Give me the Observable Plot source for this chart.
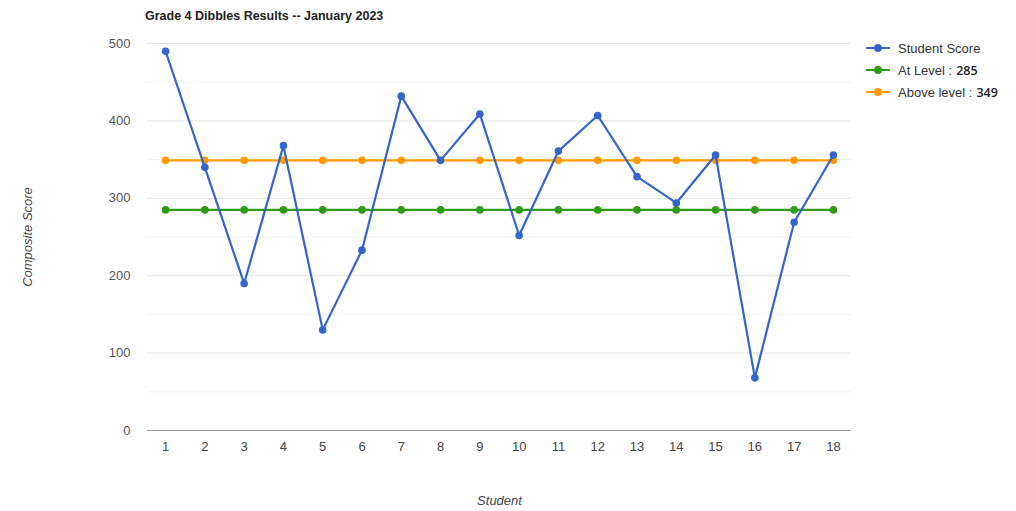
<!DOCTYPE html>
<html>
<head>
<meta charset="utf-8">
<script src="https://cdn.jsdelivr.net/npm/d3@7"></script>
<script src="https://cdn.jsdelivr.net/npm/@observablehq/plot@0.6"></script>
<style>
  html, body { margin: 0; padding: 0; background: #fff; }
  body { width: 1016px; height: 511px; position: relative; overflow: hidden; font-family: Arial, "Liberation Sans", sans-serif; }
  #title { position: absolute; left: 145px; top: 9px; font-size: 12.5px; font-weight: bold; color: #222; }
  #chart { position: absolute; left: 0; top: 0; }
  #legend { position: absolute; left: 866px; top: 37px; font-size: 13px; color: #333; }
  .item { display: flex; align-items: center; height: 22px; }
  .sw { position: relative; width: 24px; height: 10px; margin-right: 8px; }
  .sw .ln { position: absolute; left: 0; right: 0; top: 4px; height: 2px; }
  .sw .dt { position: absolute; left: 8px; top: 1px; width: 8px; height: 8px; border-radius: 50%; }
  .val { font-weight: 600; color: #222; font-family: "Open Sans", Arial, sans-serif; font-size: 12.5px; margin-left: 4px; }
</style>
</head>
<body>
<div id="title">Grade 4 Dibbles Results -- January 2023</div>
<div id="chart"></div>
<div id="legend"></div>
<script>
const students = [1,2,3,4,5,6,7,8,9,10,11,12,13,14,15,16,17,18];
const studentScore = [490,340,190,368,130,233,432,349,409,252,361,407,328,294,356,68,269,356];
const atLevel = 285;
const aboveLevel = 349;
const yTicks = [0,100,200,300,400,500];
const yMinor = [50,150,250,350,450];
const seriesNames = ["Student Score", "At Level", "Above level"];
const seriesColors = ["#3366cc", "#2f9a14", "#ff9900"];

const rows = students.map((s, i) => ({student: s, score: studentScore[i], at: atLevel, above: aboveLevel}));

const chart = Plot.plot({
  width: 1016,
  height: 511,
  marginLeft: 147,
  marginRight: 165,
  marginTop: 43,
  marginBottom: 81,
  style: {fontFamily: "Arial, 'Liberation Sans', sans-serif", fontSize: "13px", color: "#444", background: "transparent"},
  x: {type: "point", domain: students, padding: 0.46, round: false, label: null},
  y: {domain: [0, 500], label: null},
  marks: [
    Plot.ruleY(yMinor, {stroke: "#f2f2f2", strokeWidth: 1}),
    Plot.ruleY(yTicks.filter(d => d > 0), {stroke: "#e3e3e3", strokeWidth: 1}),
    Plot.ruleY([0], {stroke: "#999", strokeWidth: 1.2}),
    Plot.axisY({ticks: yTicks, tickSize: 0, tickPadding: 17, fontSize: 13, fill: "#555", label: null}),
    Plot.axisX({ticks: students, tickSize: 0, tickPadding: 11, fontSize: 13, fill: "#444", label: null}),
    Plot.lineY(rows, {x: "student", y: "at", stroke: seriesColors[1], strokeWidth: 2.2}),
    Plot.dot(rows, {x: "student", y: "at", fill: seriesColors[1], r: 3.8}),
    Plot.lineY(rows, {x: "student", y: "above", stroke: seriesColors[2], strokeWidth: 2.2}),
    Plot.dot(rows, {x: "student", y: "above", fill: seriesColors[2], r: 3.8}),
    Plot.lineY(rows, {x: "student", y: "score", stroke: seriesColors[0], strokeWidth: 2.2}),
    Plot.dot(rows, {x: "student", y: "score", fill: seriesColors[0], r: 3.8}),
    Plot.text(["Composite Score"], {frameAnchor: "left", textAnchor: "middle", dx: -120, rotate: -90, fontStyle: "italic", fontSize: 13, fill: "#444"}),
    Plot.text(["Student"], {frameAnchor: "bottom", textAnchor: "middle", dy: 74, fontStyle: "italic", fontSize: 13, fill: "#444"})
  ]
});
document.getElementById("chart").appendChild(chart);

const legendLabels = [seriesNames[0], seriesNames[1] + " :", seriesNames[2] + " :"];
const legendVals = ["", String(atLevel), String(aboveLevel)];
const lg = document.getElementById("legend");
seriesNames.forEach((n, i) => {
  const it = document.createElement("div");
  it.className = "item";
  it.innerHTML = `<div class="sw"><div class="ln" style="background:${seriesColors[i]}"></div><div class="dt" style="background:${seriesColors[i]}"></div></div><span>${legendLabels[i]}</span>` + (legendVals[i] ? `<span class="val">${legendVals[i]}</span>` : "");
  lg.appendChild(it);
});
</script>
</body>
</html>
